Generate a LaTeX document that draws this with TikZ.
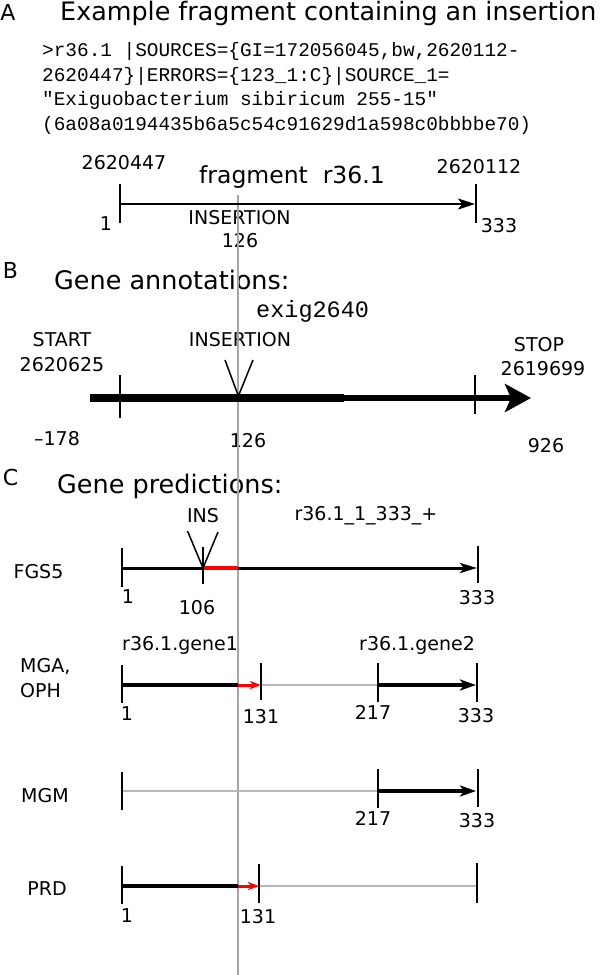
\documentclass[tikz,border=0pt]{standalone}
\usepackage{fontspec}
\setmainfont{DejaVu Sans}
\setmonofont{Liberation Mono}
\usetikzlibrary{arrows.meta}
\definecolor{vgray}{HTML}{A6A6A6}
\definecolor{hgray}{HTML}{B8B8B8}
\definecolor{ared}{HTML}{FF0000}
\begin{document}
\begin{tikzpicture}[x=1pt,y=-1pt,
  lbl/.style={inner sep=0pt, anchor=base, font=\fontsize{19}{22}\selectfont},
  big/.style={inner sep=0pt, anchor=base west, font=\fontsize{25.5}{30}\selectfont},
  frag/.style={inner sep=0pt, anchor=base west, font=\fontsize{23.5}{28}\selectfont},
  panel/.style={inner sep=0pt, anchor=base, font=\fontsize{22}{26}\selectfont},
  mono/.style={inner sep=0pt, anchor=base west, font=\ttfamily\fontsize{19.4}{24}\selectfont},
  monobig/.style={inner sep=0pt, anchor=base west, font=\ttfamily\fontsize{23.5}{28}\selectfont},
  tickmark/.style={line width=1.5pt, black},
  vline/.style={line width=2pt, vgray},
  thinarrow/.style={line width=2pt, black, -{Stealth[length=17pt,width=11pt,inset=4pt]}},
  fgsline/.style={line width=3pt, black},
  fgsarrow/.style={line width=3pt, black, -{Stealth[length=17pt,width=10pt,inset=4pt]}},
  thickline/.style={line width=4pt, black},
  thickarrow/.style={line width=4pt, black, -{Stealth[length=16pt,width=11pt,inset=4pt]}},
  redarrow/.style={line width=3pt, ared, -{Stealth[length=11pt,width=8pt,inset=3pt]}},
  redline/.style={line width=3.5pt, ared},
  grayline/.style={line width=2pt, hgray},
  vmark/.style={line width=1.5pt, black}
]
\useasboundingbox (0,0) rectangle (600,975);
\fill[white] (0,0) rectangle (600,975);

% ---------- Section A ----------
\node[panel] (pA) at (8,20) {A};
\node[big, font=\fontsize{25.4}{30}\selectfont] (titleA) at (60,20) {Example fragment containing an insertion};
\node[mono] (m1) at (42,56.5) {>r36.1 |SOURCES=\{GI=172056045,bw,2620112-};
\node[mono] (m2) at (42,81) {2620447\}|ERRORS=\{123\_1:C\}|SOURCE\_1=};
\node[mono] (m3) at (42,105.5) {"Exiguobacterium sibiricum 255-15"};
\node[mono] (m4) at (42,130) {(6a08a0194435b6a5c54c91629d1a598c0bbbbe70)};

\node[lbl] (aS) at (124,169) {2620447};
\node[lbl] (aE) at (479,173) {2620112};
\node[frag] (fragname) at (199,183) {fragment\ \ r36.1};
\node[lbl] (a1lbl) at (106,230) {1};
\node[lbl] (a333) at (499,232) {333};
\node[lbl] (aIns) at (239.5,224) {INSERTION};
\node[lbl] (a126) at (240,247) {126};

% ---------- Section B ----------
\node[panel] (pB) at (10.5,278) {B};
\node[big] (titleB) at (54,289) {Gene annotations:};
\node[monobig] (exig) at (256,317) {exig2640};
\node[lbl] (bStart) at (62,346) {START};
\node[lbl] (bStartN) at (62,371) {2620625};
\node[lbl] (bIns) at (240,346) {INSERTION};
\node[lbl] (bStop) at (539,351) {STOP};
\node[lbl] (bStopN) at (543,375) {2619699};
\node[lbl] (bm178) at (57,445) {--178};
\node[lbl] (b126) at (248,447) {126};
\node[lbl] (b926) at (546,452) {926};

% ---------- Section C ----------
\node[panel] (pC) at (10.5,485) {C};
\node[big] (titleC) at (57,493) {Gene predictions:};
\node[lbl] (cIns) at (203,522) {INS};
\node[lbl] (cName) at (366,520) {r36.1\_1\_333\_+};
\node[lbl] (cFGS) at (38.5,578) {FGS5};
\node[lbl] (c1) at (128,603) {1};
\node[lbl] (c106) at (197,614) {106};
\node[lbl] (c333) at (477,604) {333};

\node[lbl, anchor=base west] (g1) at (122,650) {r36.1.gene1};
\node[lbl, anchor=base west] (g2) at (359,650) {r36.1.gene2};
\node[lbl, anchor=base west] (mga) at (20,672) {MGA,};
\node[lbl, anchor=base west] (oph) at (20,697) {OPH};
\node[lbl] (d1) at (127,720) {1};
\node[lbl] (d131) at (261,723) {131};
\node[lbl] (d217) at (373,719) {217};
\node[lbl] (d333) at (476,722) {333};

\node[lbl] (mgm) at (45,802) {MGM};
\node[lbl] (e217) at (373,825) {217};
\node[lbl] (e333) at (477,827) {333};

\node[lbl] (prd) at (47,895) {PRD};
\node[lbl] (f1) at (127,922) {1};
\node[lbl] (f131) at (258,923) {131};

% ---------- vertical insertion line ----------
\coordinate (vtop) at (238,195);
\coordinate (vbot) at (238,975);
\draw[vline] (vtop) -- (vbot);

% ---------- Section A lines ----------
\coordinate (aL) at (120,204); \coordinate (aR) at (475,204);
\coordinate (aLt) at (120,184); \coordinate (aLb) at (120,223);
\coordinate (aRt) at (476,184); \coordinate (aRb) at (476,223);
\draw[tickmark] (aLt) -- (aLb);
\draw[tickmark] (aRt) -- (aRb);
\draw[thinarrow] (aL) -- (aR);

% ---------- Section B lines ----------
\coordinate (b0) at (90,398); \coordinate (bmid) at (344,398); \coordinate (btip) at (531,398);
\draw[line width=7.5pt, black] (b0) -- (bmid);
\draw[line width=5.5pt, black, -{Stealth[length=26pt,width=28pt,inset=6pt]}] (bmid) -- (btip);
\coordinate (bLt) at (120,375); \coordinate (bLb) at (120,418);
\coordinate (bRt) at (475,375); \coordinate (bRb) at (475,414);
\draw[tickmark] (bLt) -- (bLb);
\draw[tickmark] (bRt) -- (bRb);
\coordinate (bV1) at (225,360); \coordinate (bVa) at (238.4,396); \coordinate (bV2) at (253,360);
\draw[vmark] (bV1) -- (bVa) -- (bV2);

% ---------- FGS5 ----------
\coordinate (cL) at (122,568); \coordinate (cI) at (203,568); \coordinate (cG) at (238,568); \coordinate (cR) at (477,568);
\draw[fgsline] (cL) -- (cI);
\draw[fgsarrow] (cG) -- (cR);
\draw[redline] (cI) -- (cG);
\coordinate (cLt) at (122,548); \coordinate (cLb) at (122,587);
\coordinate (cIt) at (203,547); \coordinate (cIb) at (203,584);
\coordinate (cRt) at (478,546); \coordinate (cRb) at (478,583);
\draw[tickmark] (cLt) -- (cLb);
\draw[tickmark] (cIt) -- (cIb);
\draw[tickmark] (cRt) -- (cRb);
\coordinate (cV1) at (187.5,531); \coordinate (cV2) at (218,532);
\draw[vmark] (cV1) -- (cI) -- (cV2);

% ---------- MGA, OPH ----------
\coordinate (dL) at (122,685); \coordinate (dG) at (238,685); \coordinate (d131p) at (261,685);
\coordinate (d217p) at (378,685); \coordinate (dR) at (476,685);
\draw[grayline] (d131p) -- (d217p);
\draw[thickline] (dL) -- (dG);
\draw[redarrow] (dG) -- (d131p);
\draw[thickarrow] (d217p) -- (dR);
\coordinate (dLt) at (122,665); \coordinate (dLb) at (122,703);
\coordinate (d131t) at (261,663); \coordinate (d131b) at (261,700);
\coordinate (d217t) at (378,663); \coordinate (d217b) at (378,702);
\coordinate (dRt) at (477,663); \coordinate (dRb) at (477,702);
\draw[tickmark] (dLt) -- (dLb);
\draw[tickmark] (d131t) -- (d131b);
\draw[tickmark] (d217t) -- (d217b);
\draw[tickmark] (dRt) -- (dRb);

% ---------- MGM ----------
\coordinate (eL) at (122,791); \coordinate (e217p) at (378,791); \coordinate (eR) at (476,791);
\draw[grayline] (eL) -- (e217p);
\draw[thickarrow] (e217p) -- (eR);
\coordinate (eLt) at (122,772); \coordinate (eLb) at (122,810);
\coordinate (e217t) at (378,769); \coordinate (e217b) at (378,808);
\coordinate (eRt) at (478,769); \coordinate (eRb) at (478,807);
\draw[tickmark] (eLt) -- (eLb);
\draw[tickmark] (e217t) -- (e217b);
\draw[tickmark] (eRt) -- (eRb);

% ---------- PRD ----------
\coordinate (fL) at (122,886); \coordinate (fG) at (238,886); \coordinate (f131p) at (259,886); \coordinate (fR) at (477,886);
\draw[grayline] (f131p) -- (fR);
\draw[thickline] (fL) -- (fG);
\draw[redarrow] (fG) -- (f131p);
\coordinate (fLt) at (122,866); \coordinate (fLb) at (122,904);
\coordinate (f131t) at (259,864); \coordinate (f131b) at (259,903);
\coordinate (fRt) at (477,863); \coordinate (fRb) at (477,903);
\draw[tickmark] (fLt) -- (fLb);
\draw[tickmark] (f131t) -- (f131b);
\draw[tickmark] (fRt) -- (fRb);
\end{tikzpicture}
\end{document}
